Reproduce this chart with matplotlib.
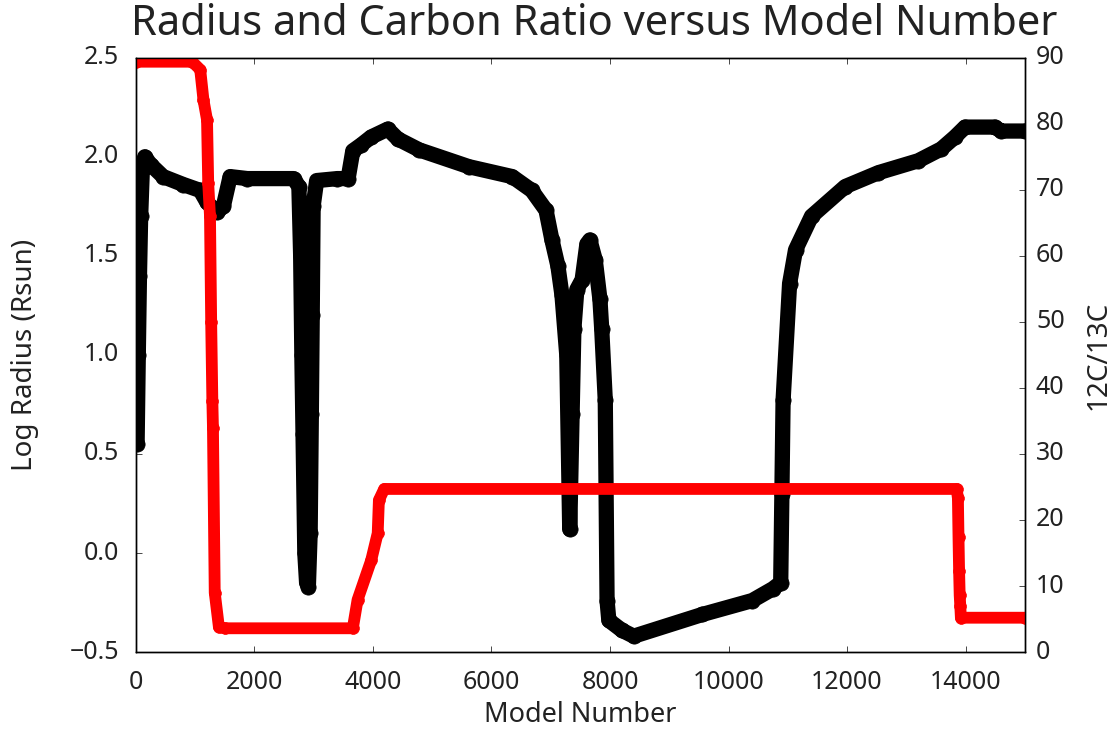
import numpy as np
import matplotlib.pyplot as plt

# Log radius (black, left axis)
model_r = [20, 40, 60, 80, 110, 150, 250, 460, 800, 1085, 1200, 1370, 1475, 1590, 1880,
           2660, 2750, 2780, 2800, 2820, 2850, 2880, 2910, 2940, 2960, 2975, 2990, 3050,
           3400, 3580, 3660, 3800, 3970, 4250, 4420, 4780, 5620, 6350, 6680, 6920, 7020,
           7120, 7190, 7270, 7320, 7360, 7390, 7440, 7530, 7610, 7660, 7750, 7830, 7860,
           7920, 7950, 7980, 8200, 8400, 9560, 10400, 10750, 10880, 10900, 10920, 11030,
           11130, 11400, 11970, 12530, 13200, 13590, 13820, 13990, 14490, 14600, 15000]
log_radius = [0.55, 1.0, 1.4, 1.7, 1.95, 2.0, 1.96, 1.90, 1.86, 1.83, 1.77, 1.72, 1.75, 1.90, 1.89,
              1.89, 1.85, 1.5, 1.0, 0.6, 0.0, -0.15, -0.17, 0.1, 0.7, 1.2, 1.75, 1.88,
              1.89, 1.89, 2.03, 2.06, 2.10, 2.14, 2.09, 2.035, 1.95, 1.90, 1.83, 1.73, 1.58,
              1.45, 1.3, 1.0, 0.12, 0.7, 1.13, 1.33, 1.38, 1.56, 1.58, 1.48, 1.28, 1.13,
              0.77, -0.24, -0.34, -0.39, -0.42, -0.31, -0.24, -0.18, -0.15, 0.3, 0.77, 1.36,
              1.53, 1.70, 1.85, 1.92, 1.98, 2.04, 2.10, 2.15, 2.15, 2.13, 2.13]

# 12C/13C (red, right axis)
model_c = [0, 950, 1085, 1140, 1200, 1220, 1250, 1270, 1290, 1300, 1330, 1400, 1500,
           3660, 3740, 3970, 4080, 4100, 4190, 13850, 13870, 13880, 13890, 13900, 13910,
           13920, 15000]
c_ratio = [89.4, 89.4, 88.2, 83.6, 80.6, 71, 66, 50, 38, 34, 9, 3.8, 3.6,
           3.6, 7.9, 13.9, 18, 23, 24.7, 24.7, 23.3, 17.4, 12.3, 8.6, 7.0,
           5.2, 5.2]

plt.style.use('classic')
plt.rcParams['font.family'] = ['Noto Sans', 'DejaVu Sans']
fig = plt.figure(figsize=(11.14, 7.31), dpi=100, facecolor='white')
ax1 = fig.add_axes([0.122, 0.108, 0.798, 0.813])
ax2 = ax1.twinx()

ax1.plot(model_r, log_radius, '-o', color='black', lw=11, ms=11, mec='black',
         solid_joinstyle='round', solid_capstyle='round')
ax2.plot(model_c, c_ratio, '-o', color='red', lw=8.5, ms=8.5, mec='red',
         solid_joinstyle='round', solid_capstyle='round')

ax1.set_xlim(0, 15000)
ax1.set_ylim(-0.5, 2.5)
ax2.set_ylim(0, 90)

ax1.set_title("Radius and Carbon Ratio versus Model Number", fontsize=30, x=0.516, y=1.026,
              color='#222222')
ax1.set_xlabel("Model Number", fontsize=19.5, color='#222222', labelpad=4)
ax1.set_ylabel("Log Radius (Rsun)", fontsize=20, color='#222222', labelpad=22)
ax2.set_ylabel("12C/13C", fontsize=20, color='#222222', labelpad=14)
ax1.tick_params(axis='x', labelsize=18, pad=13, labelcolor='#222222')
ax1.tick_params(axis='y', labelsize=18, pad=12, labelcolor='#222222')
ax2.tick_params(labelsize=18, pad=8, labelcolor='#222222')

fig.savefig("out.png", dpi=100, facecolor='white')
